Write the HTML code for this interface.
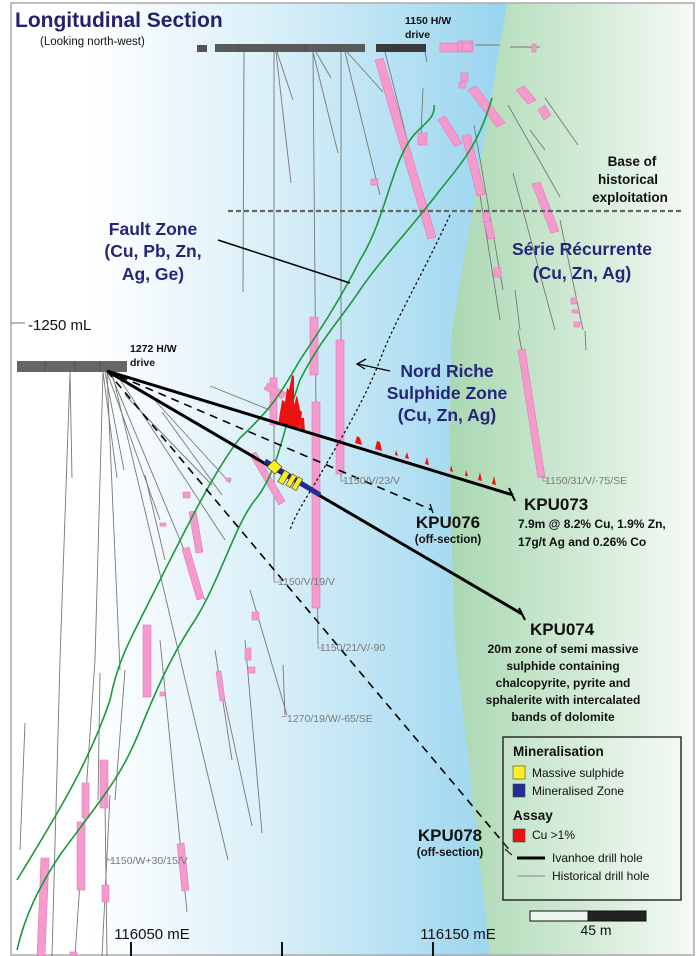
<!DOCTYPE html>
<html><head><meta charset="utf-8"><style>
html,body{margin:0;padding:0;background:#fff;}
svg{display:block;font-family:"Liberation Sans",sans-serif;}
</style></head><body>
<svg width="700" height="956" viewBox="0 0 700 956" xmlns="http://www.w3.org/2000/svg">
<defs>
<linearGradient id="bl" gradientUnits="userSpaceOnUse" x1="90" y1="0" x2="500" y2="0">
<stop offset="0" stop-color="#ffffff"/><stop offset="0.45" stop-color="#d9eff8"/><stop offset="1" stop-color="#9ad5ef"/></linearGradient>
<linearGradient id="gr" gradientUnits="userSpaceOnUse" x1="450" y1="0" x2="700" y2="0">
<stop offset="0" stop-color="#aad8b2"/><stop offset="0.5" stop-color="#cfe9d3"/><stop offset="1" stop-color="#f7fbf7"/></linearGradient>
</defs>
<rect x="0" y="0" width="700" height="956" fill="#fff"/>
<rect x="11" y="3" width="500" height="953" fill="url(#bl)"/>
<path d="M507,3 L694,3 L694,956 L490,956 L455,640 Q447,450 452,330 Z" fill="url(#gr)"/>
<rect x="11" y="3" width="683" height="952" fill="none" stroke="#aaa" stroke-width="1.5"/>

<!-- historical drill lines (top) -->
<g stroke="#777" stroke-width="0.9" fill="none">
<line x1="244" y1="52" x2="243" y2="292"/>
<line x1="274" y1="52" x2="274" y2="580"/>
<line x1="276" y1="52" x2="291" y2="183"/>
<line x1="277" y1="52" x2="293" y2="100"/>
<line x1="313" y1="52" x2="338" y2="153"/>
<line x1="316" y1="52" x2="331" y2="78"/>
<line x1="313" y1="52" x2="318" y2="645"/>
<line x1="341" y1="52" x2="341" y2="478"/>
<line x1="345" y1="52" x2="380" y2="195"/>
<line x1="347" y1="52" x2="383" y2="92"/>
<line x1="385" y1="52" x2="432" y2="238"/>
<line x1="423" y1="88" x2="421" y2="135"/>
<line x1="425" y1="52" x2="427" y2="62"/>
<line x1="475" y1="45" x2="500" y2="45"/>
<line x1="510" y1="47" x2="540" y2="47"/>
<line x1="508" y1="105" x2="560" y2="197"/>
<line x1="530" y1="130" x2="545" y2="150"/>
<line x1="545" y1="98" x2="578" y2="145"/>
<line x1="513" y1="173" x2="555" y2="330"/>
<line x1="480" y1="195" x2="500" y2="320"/>
<line x1="515" y1="290" x2="520" y2="330"/>
<line x1="560" y1="220" x2="583" y2="330"/>
<line x1="585" y1="331" x2="586" y2="350"/>
<line x1="518" y1="330" x2="545" y2="478"/>
<line x1="474" y1="125" x2="503" y2="290"/>
</g>
<!-- left fan lines -->
<g stroke="#777" stroke-width="0.9" fill="none">
<line x1="70" y1="372" x2="72" y2="478"/>
<line x1="70" y1="372" x2="60" y2="660"/>
<line x1="103" y1="372" x2="95" y2="660"/>
<line x1="103" y1="372" x2="117" y2="478"/>
<line x1="105" y1="372" x2="124" y2="470"/>
<line x1="107" y1="372" x2="120" y2="670"/>
<line x1="107" y1="372" x2="160" y2="520"/>
<line x1="110" y1="372" x2="205" y2="600"/>
<line x1="112" y1="372" x2="228" y2="860"/>
<line x1="115" y1="372" x2="225" y2="540"/>
<line x1="125" y1="395" x2="212" y2="485"/>
<line x1="150" y1="395" x2="230" y2="483"/>
<line x1="162" y1="412" x2="222" y2="495"/>
<line x1="210" y1="386" x2="270" y2="410"/>
<line x1="145" y1="475" x2="165" y2="560"/>
<line x1="25" y1="723" x2="20" y2="850"/>
<line x1="60" y1="660" x2="52" y2="956"/>
<line x1="95" y1="660" x2="75" y2="956"/>
<line x1="125" y1="670" x2="115" y2="800"/>
<line x1="100" y1="673" x2="98" y2="800"/>
<line x1="110" y1="795" x2="102" y2="956"/>
<line x1="160" y1="640" x2="187" y2="912"/>
<line x1="105" y1="800" x2="107" y2="956"/>
<line x1="215" y1="650" x2="232" y2="760"/>
<line x1="218" y1="670" x2="252" y2="826"/>
<line x1="245" y1="640" x2="262" y2="833"/>
<line x1="250" y1="590" x2="287" y2="715"/>
<line x1="283" y1="665" x2="285" y2="715"/>
</g>

<!-- pink intercepts -->
<g fill="#f59acd" stroke="#e27ab5" stroke-width="0.6">
<polygon points="375,60 383,58 436,237 428,239"/>
<rect x="418" y="133" width="9" height="12"/>
<polygon points="438,120 445,116 462,143 455,147"/>
<polygon points="462,136 470,134 485,194 477,196"/>
<polygon points="468,90 476,86 505,123 497,127"/>
<rect x="461" y="73" width="7" height="8"/>
<rect x="459" y="82" width="7" height="6"/>
<rect x="371" y="179" width="7" height="6"/>
<rect x="483" y="212" width="7" height="10"/>
<polygon points="484,222 491,221 495,238 488,239"/>
<rect x="494" y="268" width="7" height="9"/>
<polygon points="532,184 540,182 559,231 551,233"/>
<polygon points="516,90 524,86 536,100 528,104"/>
<polygon points="538,110 545,105 551,115 544,120"/>
<rect x="571" y="298" width="6" height="6"/>
<rect x="572" y="310" width="7" height="3"/>
<rect x="574" y="322" width="6" height="5"/>
<rect x="440" y="43" width="18" height="9"/>
<rect x="458" y="41" width="15" height="11"/>
<rect x="462" y="43" width="10" height="8"/>
<rect x="532" y="44" width="4" height="8"/>
<polygon points="518,350 525,349 545,477 538,478"/>
<rect x="270" y="378" width="7" height="47"/>
<polygon points="264,389 268,383 286,393 282,399"/>
<rect x="310" y="317" width="8" height="58"/>
<rect x="312" y="402" width="8" height="206"/>
<rect x="336" y="340" width="8" height="134"/>
<polygon points="250,455 256,452 285,501 279,505"/>
<rect x="183" y="492" width="7" height="6"/>
<polygon points="189,512 196,511 203,552 196,553"/>
<polygon points="182,549 189,547 204,598 197,600"/>
<rect x="143" y="625" width="8" height="72"/>
<rect x="160" y="692" width="5" height="4"/>
<rect x="82" y="783" width="7" height="35"/>
<rect x="77" y="822" width="8" height="68"/>
<rect x="100" y="760" width="8" height="48"/>
<rect x="102" y="885" width="7" height="17"/>
<polygon points="41,858 49,858 45,956 37,956"/>
<polygon points="177,844 184,843 189,890 182,891"/>
<rect x="70" y="952" width="7" height="4"/>
<rect x="252" y="612" width="7" height="8"/>
<rect x="245" y="648" width="6" height="12"/>
<rect x="248" y="667" width="7" height="6"/>
<polygon points="216,672 221,671 225,700 220,701"/>
<rect x="160" y="523" width="6" height="3"/>
<rect x="226" y="478" width="5" height="3"/>
</g>

<!-- drives -->
<rect x="197" y="45" width="10" height="7" fill="#555"/>
<rect x="215" y="44" width="150" height="8" fill="#5a5a5a"/>
<rect x="376" y="44" width="50" height="8" fill="#3a3a3a"/>
<rect x="17" y="361" width="110" height="11" fill="#666"/>
<g stroke="#444" stroke-width="0.6"><line x1="45" y1="361" x2="45" y2="372"/><line x1="75" y1="361" x2="75" y2="372"/><line x1="100" y1="361" x2="100" y2="372"/><line x1="238" y1="44" x2="238" y2="52"/><line x1="305" y1="44" x2="305" y2="52"/></g>

<!-- base of historical exploitation -->
<line x1="228" y1="211" x2="684" y2="211" stroke="#666" stroke-width="2.2" stroke-dasharray="5,3"/>

<!-- green fault curves -->
<g stroke="#1a9a3a" stroke-width="1.6" fill="none">
<path d="M434,105 C436,120 420,125 410,140 C390,170 385,220 360,260 C340,300 320,330 300,360 C280,395 270,410 240,438 C215,470 190,520 150,600 C130,640 118,660 110,700 C90,760 60,810 17,880"/>
<path d="M492,98 C480,140 465,160 440,190 C410,230 380,260 360,290 C340,320 320,340 300,380 C285,420 280,470 255,500 C235,525 220,580 195,620 C175,650 160,680 140,730 C120,780 100,800 60,855 C40,885 25,915 17,950"/>
</g>

<!-- dotted curve -->
<path d="M450,215 C420,280 395,320 380,360 C365,400 340,440 320,475 C305,500 295,515 290,530" stroke="#111" stroke-width="1.3" stroke-dasharray="2.5,2.5" fill="none"/>

<!-- red assays -->
<g fill="#ee1111">
<polygon points="278,425 282,400 285,402 287,388 289,390 292,375 294,376 294,405 297,395 300,410 302,412 300,428"/>
<polygon points="300,430 301,418 304,418 305,431"/>
<polygon points="355,443 357,436 360,438 362,445"/>
<polygon points="375,449 377,441 380,442 382,451"/>
<polygon points="395,455 396,450 398,456"/>
<polygon points="405,458 407,452 409,459"/>
<polygon points="425,464 427,457 429,465"/>
<polygon points="450,471 451,465 453,472"/>
<polygon points="465,476 466,470 468,476"/>
<polygon points="478,480 480,472 482,481"/>
<polygon points="492,484 494,476 496,485"/>
</g>

<!-- Ivanhoe holes -->
<g stroke="#000" fill="none">
<line x1="107" y1="371" x2="513" y2="495" stroke-width="3"/>
<line x1="509" y1="488" x2="515" y2="501" stroke-width="2"/>
<line x1="107" y1="371" x2="522" y2="614" stroke-width="3"/>
<line x1="519" y1="608" x2="525" y2="620" stroke-width="2"/>
<line x1="107" y1="371" x2="432" y2="510" stroke-width="1.6" stroke-dasharray="8,6"/>
<line x1="430" y1="504" x2="433" y2="513" stroke-width="1.3"/>
<line x1="107" y1="371" x2="512" y2="853" stroke-width="1.6" stroke-dasharray="8,6"/>
<line x1="505" y1="849" x2="512" y2="855" stroke-width="1.3"/>
</g>
<!-- mineralised zone -->
<line x1="265" y1="461" x2="320" y2="495" stroke="#1f2f8f" stroke-width="5"/>
<g fill="#ffee22" stroke="#333" stroke-width="0.6">
<polygon points="267,467 274,460 282,467 275,474"/>
<rect x="281" y="471" width="6" height="13" transform="rotate(30 284 477)"/>
<rect x="289" y="474" width="5" height="13" transform="rotate(30 291 480)"/>
<rect x="295" y="477" width="5" height="13" transform="rotate(30 297 483)"/>
</g>

<!-- misc lines -->
<line x1="218" y1="240" x2="350" y2="283" stroke="#000" stroke-width="1.5"/>
<line x1="390" y1="371" x2="358" y2="364" stroke="#000" stroke-width="1.3"/>
<polyline points="366,359 357,364 365,369" fill="none" stroke="#000" stroke-width="1.3"/>
<line x1="11" y1="323" x2="25" y2="323" stroke="#888" stroke-width="1.2"/>

<!-- drill labels -->
<g fill="#7a7a7a" font-size="10.5">
<text x="343" y="484">1150/V/23/V</text>
<text x="545" y="484">1150/31/V/-75/SE</text>
<text x="278" y="585">1150/V/19/V</text>
<text x="320" y="651">1150/21/V/-90</text>
<text x="287" y="722">1270/19/W/-65/SE</text>
<text x="110" y="864">1150/W+30/15/V</text>
</g>
<g stroke="#888" stroke-width="0.8" fill="none">
<polyline points="341,476 341,481 346,481"/><polyline points="543,476 543,481 548,481"/><polyline points="274,576 274,582 280,582"/><polyline points="318,643 318,648 323,648"/><polyline points="282,717 287,716"/><polyline points="108,858 108,860 113,860"/>
</g>

<!-- titles -->
<text x="15" y="27" font-size="21" font-weight="bold" fill="#22226e">Longitudinal Section</text>
<text x="40" y="45" font-size="11.5" fill="#111">(Looking north-west)</text>
<text x="405" y="24" font-size="10.5" font-weight="bold" fill="#111">1150 H/W</text>
<text x="405" y="38" font-size="10.5" font-weight="bold" fill="#111">drive</text>
<text x="130" y="352" font-size="10.5" font-weight="bold" fill="#111">1272 H/W</text>
<text x="130" y="366" font-size="10.5" font-weight="bold" fill="#111">drive</text>
<text x="28" y="330" font-size="15" fill="#111">-1250 mL</text>

<g font-size="13.5" font-weight="bold" fill="#111" text-anchor="middle">
<text x="632" y="166">Base of</text><text x="628" y="184">historical</text><text x="630" y="202">exploitation</text>
</g>
<g font-size="17.5" font-weight="bold" fill="#25257a" text-anchor="middle">
<text x="153" y="235">Fault Zone</text><text x="153" y="257">(Cu, Pb, Zn,</text><text x="153" y="280">Ag, Ge)</text>
<text x="582" y="255">Série Récurrente</text><text x="582" y="279">(Cu, Zn, Ag)</text>
<text x="447" y="377">Nord Riche</text><text x="447" y="399">Sulphide Zone</text><text x="447" y="421">(Cu, Zn, Ag)</text>
</g>

<g fill="#111" font-weight="bold">
<text x="524" y="510" font-size="17">KPU073</text>
<text x="518" y="528" font-size="12">7.9m @ 8.2% Cu, 1.9% Zn,</text>
<text x="518" y="546" font-size="12">17g/t Ag and 0.26% Co</text>
<text x="530" y="635" font-size="17">KPU074</text>
<g font-size="12" text-anchor="middle">
<text x="563" y="653">20m zone of semi massive</text>
<text x="563" y="670">sulphide containing</text>
<text x="563" y="687">chalcopyrite, pyrite and</text>
<text x="563" y="704">sphalerite with intercalated</text>
<text x="563" y="721">bands of dolomite</text>
</g>
<g text-anchor="middle">
<text x="448" y="528" font-size="17">KPU076</text>
<text x="448" y="543" font-size="11.5">(off-section)</text>
<text x="450" y="841" font-size="17">KPU078</text>
<text x="450" y="856" font-size="11.5">(off-section)</text>
</g>
</g>

<!-- legend -->
<rect x="503" y="737" width="178" height="163" fill="#fff" fill-opacity="0.15" stroke="#111" stroke-width="1.3"/>
<text x="513" y="756" font-size="13.5" font-weight="bold" fill="#111">Mineralisation</text>
<rect x="513" y="766" width="12" height="13" fill="#ffee22" stroke="#444" stroke-width="0.6"/>
<text x="532" y="777" font-size="12" fill="#111">Massive sulphide</text>
<rect x="513" y="784" width="12" height="13" fill="#1f2f8f" stroke="#444" stroke-width="0.6"/>
<text x="532" y="795" font-size="12" fill="#111">Mineralised Zone</text>
<text x="513" y="820" font-size="13.5" font-weight="bold" fill="#111">Assay</text>
<rect x="513" y="829" width="12" height="13" fill="#ee1111" stroke="#444" stroke-width="0.6"/>
<text x="532" y="839" font-size="12" fill="#111">Cu &gt;1%</text>
<line x1="517" y1="858" x2="545" y2="858" stroke="#000" stroke-width="3"/>
<text x="552" y="862" font-size="12" fill="#111">Ivanhoe drill hole</text>
<line x1="517" y1="876" x2="545" y2="876" stroke="#999" stroke-width="1.2"/>
<text x="552" y="880" font-size="12" fill="#111">Historical drill hole</text>

<!-- scale bar -->
<rect x="530" y="911" width="58" height="10" fill="#eaf5ec" stroke="#111" stroke-width="1"/>
<rect x="588" y="911" width="58" height="10" fill="#222" stroke="#111" stroke-width="1"/>
<text x="596" y="935" font-size="14" fill="#111" text-anchor="middle">45 m</text>

<!-- axis -->
<text x="152" y="939" font-size="15" fill="#111" text-anchor="middle">116050 mE</text>
<text x="458" y="939" font-size="15" fill="#111" text-anchor="middle">116150 mE</text>
<g stroke="#111" stroke-width="2"><line x1="131" y1="942" x2="131" y2="956"/><line x1="282" y1="942" x2="282" y2="956"/><line x1="433" y1="942" x2="433" y2="956"/></g>
</svg>
</body></html>
